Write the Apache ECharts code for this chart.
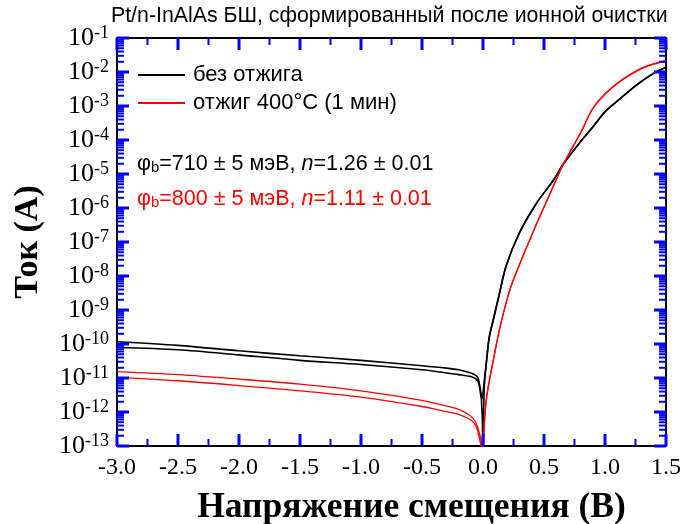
<!DOCTYPE html>
<html><head><meta charset="utf-8">
<script src="https://cdn.jsdelivr.net/npm/echarts@6/dist/echarts.min.js"></script>
<style>html,body{margin:0;padding:0;background:#fff;overflow:hidden}#c{width:683px;height:524px}</style>
</head><body><div id="c"></div>
<script>
// ---- data (voltage in V, current in A) ----
const blackV = [-3.0,-2.5,-2.0,-1.5,-1.0,-0.5,-0.3,-0.2,-0.1,-0.06,-0.04,-0.025,-0.015,-0.005,0.0,0.01,0.03,0.05,0.085,0.13,0.19,0.3,0.44,0.58,0.66,0.8,0.9,1.0,1.1,1.2,1.3,1.4,1.5];
const black1I = [1.17e-10,9.1e-11,6.3e-11,4.5e-11,3.3e-11,2.3e-11,1.95e-11,1.74e-11,1.41e-11,1.2e-11,1.0e-11,5.6e-12,3.2e-12,5e-13,8e-14,5e-12,3.4e-11,1.5e-10,5e-10,2.5e-9,2e-8,1.9e-7,1.4e-6,6.8e-6,2.0e-5,9.0e-5,2.4e-4,6.8e-4,1.4e-3,2.8e-3,5.4e-3,9.3e-3,1.4e-2];
const black2I = [7.9e-11,6.8e-11,4.8e-11,3.3e-11,2.5e-11,1.74e-11,1.41e-11,1.26e-11,1.1e-11,9.5e-12,7.9e-12,4.5e-12,2.8e-12,2.5e-12,2.5e-12,8e-12,3.4e-11,1.5e-10,5.6e-10,2.6e-9,2e-8,1.9e-7,1.4e-6,6.8e-6,2.0e-5,9.0e-5,2.4e-4,6.7e-4,1.4e-3,2.8e-3,5.3e-3,9.1e-3,1.38e-2];
const redV = [-3.0,-2.5,-2.0,-1.5,-1.0,-0.5,-0.3,-0.2,-0.1,-0.06,-0.04,-0.025,-0.01,0.0,0.01,0.03,0.085,0.14,0.22,0.3,0.44,0.59,0.66,0.8,0.9,1.0,1.1,1.2,1.3,1.4,1.5];
const red1I = [1.55e-11,1.26e-11,9.3e-12,6.6e-12,4.2e-12,2.2e-12,1.5e-12,1.2e-12,7.6e-13,5e-13,3.2e-13,2e-13,1.1e-13,6e-14,4e-13,2.8e-12,3.4e-11,3.2e-10,3.9e-9,2.2e-8,3.5e-7,5.6e-6,2.0e-5,1.6e-4,8.3e-4,2.2e-3,4.5e-3,7.9e-3,1.25e-2,1.7e-2,2.1e-2];
const red2I = [1.05e-11,8.3e-12,6.0e-12,4.2e-12,2.75e-12,1.45e-12,1.02e-12,8.5e-13,5.8e-13,4e-13,2.5e-13,1.4e-13,8e-14,6e-14,4e-13,2.8e-12,3.4e-11,3.2e-10,3.9e-9,2.2e-8,3.5e-7,5.6e-6,2.0e-5,1.65e-4,8.6e-4,2.3e-3,4.7e-3,8.3e-3,1.3e-2,1.76e-2,2.2e-2];
const xMajorTicks = [-3.0,-2.5,-2.0,-1.5,-1.0,-0.5,0.0,0.5,1.0,1.5];
const xMinorTicks = [-2.75,-2.25,-1.75,-1.25,-0.75,-0.25,0.25,0.75,1.25];
const yDecades = [-13,-12,-11,-10,-9,-8,-7,-6,-5,-4,-3,-2,-1];
const yMinorMantissas = [2,3,4,5,6,7,8,9];
const seriesNames = ['без отжига','отжиг 400°C (1 мин)'];
const titleText = 'Pt/n-InAlAs БШ, сформированный после ионной очистки';

const pair = (xs, ys) => xs.map((x, i) => [x, ys[i]]);
const serif = 'Liberation Serif, Times New Roman, serif';
const sans = 'Liberation Sans, Arial, sans-serif';

const chart = echarts.init(document.getElementById('c'), null, {renderer: 'canvas'});
const lineBase = {type: 'line', showSymbol: false, symbol: 'none', smooth: 0.3, clip: true, z: 3};
const axisCommon = {
  axisLine: {show: true, onZero: false, lineStyle: {color: '#000', width: 2}},
  axisTick: {show: false},
  splitLine: {show: false}
};
const annRich = (c) => ({
  p: {fontFamily: sans, fontSize: 21.5, fill: c},
  sub: {fontFamily: sans, fontSize: 15, fill: c, verticalAlign: 'bottom', padding: [8,0,0,0]},
  t: {fontFamily: sans, fontSize: 21.5, fill: c},
  i: {fontFamily: sans, fontSize: 21.5, fontStyle: 'italic', fill: c}
});
const textGraphics = [
  {type: 'text', left: 137, top: 153, style: {text: '{p|φ}{sub|b}{t|=710 ± 5 мэВ, }{i|n}{t|=1.26 ± 0.01}', rich: annRich('#000')}},
  {type: 'text', left: 137, top: 188, style: {text: '{p|φ}{sub|b}{t|=800 ± 5 мэВ, }{i|n}{t|=1.11 ± 0.01}', rich: annRich('#f00')}}
];
const option = {
  animation: false,
  backgroundColor: '#fff',
  title: {text: titleText, left: 106, top: 1, textStyle: {fontFamily: sans, fontSize: 21.3, fontWeight: 'normal', color: '#000'}},
  legend: {
    data: seriesNames, orient: 'vertical', left: 133, top: 59, icon: 'rect', itemWidth: 47, itemHeight: 2, itemGap: 6,
    textStyle: {fontFamily: sans, fontSize: 22, color: '#000', lineHeight: 20, padding: [0,0,0,3]}
  },
  grid: {left: 117, right: 17, top: 38, bottom: 78, containLabel: false, outerBoundsMode: 'none'},
  xAxis: [Object.assign({}, axisCommon, {
    type: 'value', min: -3, max: 1.5, interval: 0.5, position: 'bottom',
    name: 'Напряжение смещения (B)', nameLocation: 'middle', nameGap: 44,
    nameTextStyle: {fontFamily: serif, fontSize: 35.5, fontWeight: 'bold', color: '#000', padding: [0,0,0,40]},
    axisLabel: {fontFamily: serif, fontSize: 24, color: '#000', margin: 10, formatter: v => v.toFixed(1)}
  }), Object.assign({}, axisCommon, {
    type: 'value', min: -3, max: 1.5, interval: 0.5, position: 'top',
    axisLabel: {show: false}
  })],
  yAxis: [Object.assign({}, axisCommon, {
    type: 'log', logBase: 10, min: 1e-13, max: 1e-1, interval: 1, position: 'left',
    name: 'Ток (A)', nameLocation: 'middle', nameGap: 72, nameRotate: 90,
    nameTextStyle: {fontFamily: serif, fontSize: 34, fontWeight: 'bold', color: '#000'},
    axisLabel: {
      margin: 8, formatter: v => '{b|10}{s|' + Math.round(Math.log10(v)) + '}',
      rich: {b: {fontFamily: serif, fontSize: 26, color: '#000', lineHeight: 27}, s: {fontFamily: serif, fontSize: 18, color: '#000', lineHeight: 17, verticalAlign: 'top'}}
    }
  }), Object.assign({}, axisCommon, {
    type: 'log', logBase: 10, min: 1e-13, max: 1e-1, interval: 1, position: 'right',
    axisLabel: {show: false}
  })],
  graphic: textGraphics,
  series: [
    Object.assign({}, lineBase, {name: seriesNames[0], data: pair(blackV, black1I), lineStyle: {color: '#000', width: 1.6}, itemStyle: {color: '#000'}}),
    Object.assign({}, lineBase, {name: seriesNames[0], data: pair(blackV, black2I), lineStyle: {color: '#000', width: 1.6}, itemStyle: {color: '#000'}}),
    Object.assign({}, lineBase, {name: seriesNames[1], data: pair(redV, red1I), lineStyle: {color: '#f00', width: 1.3}, itemStyle: {color: '#f00'}}),
    Object.assign({}, lineBase, {name: seriesNames[1], data: pair(redV, red2I), lineStyle: {color: '#f00', width: 1.3}, itemStyle: {color: '#f00'}})
  ]
};
chart.setOption(option);

// inward ticks on all four sides, positioned through the chart's own scales
// (diagnostic colour: blue, to confirm they are drawn)
const TICK_COLOR = '#0000ff';
const tl = chart.convertToPixel({gridIndex: 0}, [-3, 1e-1]);
const br = chart.convertToPixel({gridIndex: 0}, [1.5, 1e-13]);
const L = tl[0], R = br[0], T = tl[1], B = br[1];
const tickEls = [];
const seg = (a, b, c, d, w) => tickEls.push({type: 'line', silent: true, z: 100, shape: {x1: a, y1: b, x2: c, y2: d}, style: {stroke: TICK_COLOR, lineWidth: w}});
const xTick = (v, len, w) => { const px = chart.convertToPixel({gridIndex: 0}, [v, 1e-1])[0]; seg(px, B, px, B - len, w); seg(px, T, px, T + len, w); };
const yTick = (v, len, w) => { const py = chart.convertToPixel({gridIndex: 0}, [-3, v])[1]; seg(L, py, L + len, py, w); seg(R, py, R - len, py, w); };
xMajorTicks.forEach(v => xTick(v, 12, 3));
xMinorTicks.forEach(v => xTick(v, 7, 2));
yDecades.forEach(e => {
  yTick(Math.pow(10, e), 12, 3);
  if (e < -1) yMinorMantissas.forEach(m => yTick(m * Math.pow(10, e), 7, 2));
});
chart.setOption({graphic: textGraphics.concat(tickEls)});
</script>
</body></html>
